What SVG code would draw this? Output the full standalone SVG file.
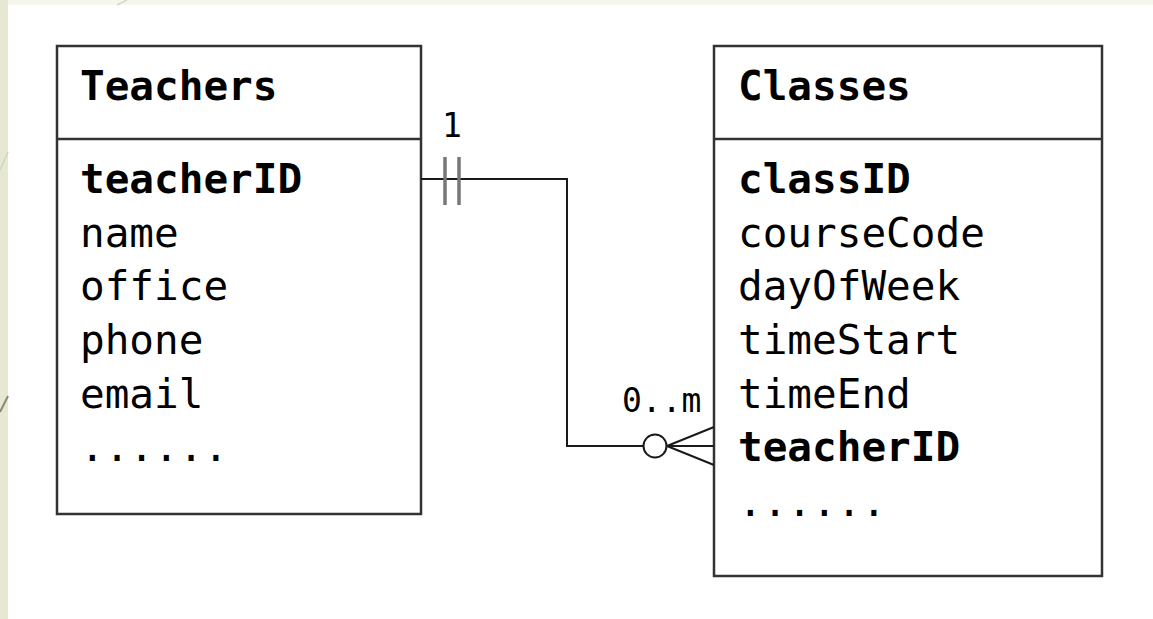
<svg xmlns="http://www.w3.org/2000/svg" width="1153" height="619" viewBox="0 0 1153 619">
  <style>
    .box { fill: #ffffff; stroke: #333333; stroke-width: 2.5; }
    .div { stroke: #333333; stroke-width: 2.5; }
    .t { font-family: "DejaVu Sans Mono", "Liberation Mono", monospace; font-size: 41px; fill: #000000; }
    .b { font-weight: bold; }
    .lbl { font-family: "DejaVu Sans Mono", "Liberation Mono", monospace; font-size: 33px; fill: #000000; }
    .conn { fill: none; stroke: #1a1a1a; stroke-width: 2; }
  </style>

  <!-- slide background -->
  <rect x="0" y="0" width="1153" height="619" fill="#ffffff"/>
  <rect x="0" y="0" width="1153" height="5" fill="#f6f6ee"/>
  <rect x="0" y="0" width="8" height="619" fill="#e6e8d4"/>
  <line x1="127" y1="0" x2="117" y2="5" stroke="#d8dac6" stroke-width="1.5"/>
  <line x1="8" y1="152" x2="0" y2="170" stroke="#d2d4c0" stroke-width="1.5"/>
  <line x1="8" y1="396" x2="0" y2="412" stroke="#8a8a72" stroke-width="2"/>

  <!-- Teachers entity -->
  <g id="teachers">
    <rect class="box" x="57" y="46" width="364" height="468"/>
    <line class="div" x1="57" y1="139" x2="421" y2="139"/>
    <text class="t b" x="80" y="100">Teachers</text>
    <text class="t b" x="80" y="193">teacherID</text>
    <text class="t" x="80" y="247">name</text>
    <text class="t" x="80" y="300">office</text>
    <text class="t" x="80" y="354">phone</text>
    <text class="t" x="80" y="408">email</text>
    <text class="t" x="80" y="461">......</text>
  </g>

  <!-- Classes entity -->
  <g id="classes">
    <rect class="box" x="714" y="46" width="388" height="530"/>
    <line class="div" x1="714" y1="139" x2="1102" y2="139"/>
    <text class="t b" x="738" y="100">Classes</text>
    <text class="t b" x="738" y="193">classID</text>
    <text class="t" x="738" y="247">courseCode</text>
    <text class="t" x="738" y="300">dayOfWeek</text>
    <text class="t" x="738" y="354">timeStart</text>
    <text class="t" x="738" y="408">timeEnd</text>
    <text class="t b" x="738" y="461">teacherID</text>
    <text class="t" x="738" y="516">......</text>
  </g>

  <!-- one-to-many relationship -->
  <g id="connectors">
    <path class="conn" d="M421 179 H567 V446 H714"/>
    <!-- exactly one -->
    <line x1="445" y1="157" x2="445" y2="205" stroke="#777777" stroke-width="3.5"/>
    <line x1="459" y1="157" x2="459" y2="205" stroke="#777777" stroke-width="3.5"/>
    <text class="lbl" x="442" y="137">1</text>
    <!-- zero or many -->
    <path class="conn" d="M667 446 L714 427 M667 446 L714 465"/>
    <circle cx="655" cy="446" r="11.5" fill="#ffffff" stroke="#1a1a1a" stroke-width="2"/>
    <text class="lbl" x="622" y="412">0..m</text>
  </g>
</svg>
